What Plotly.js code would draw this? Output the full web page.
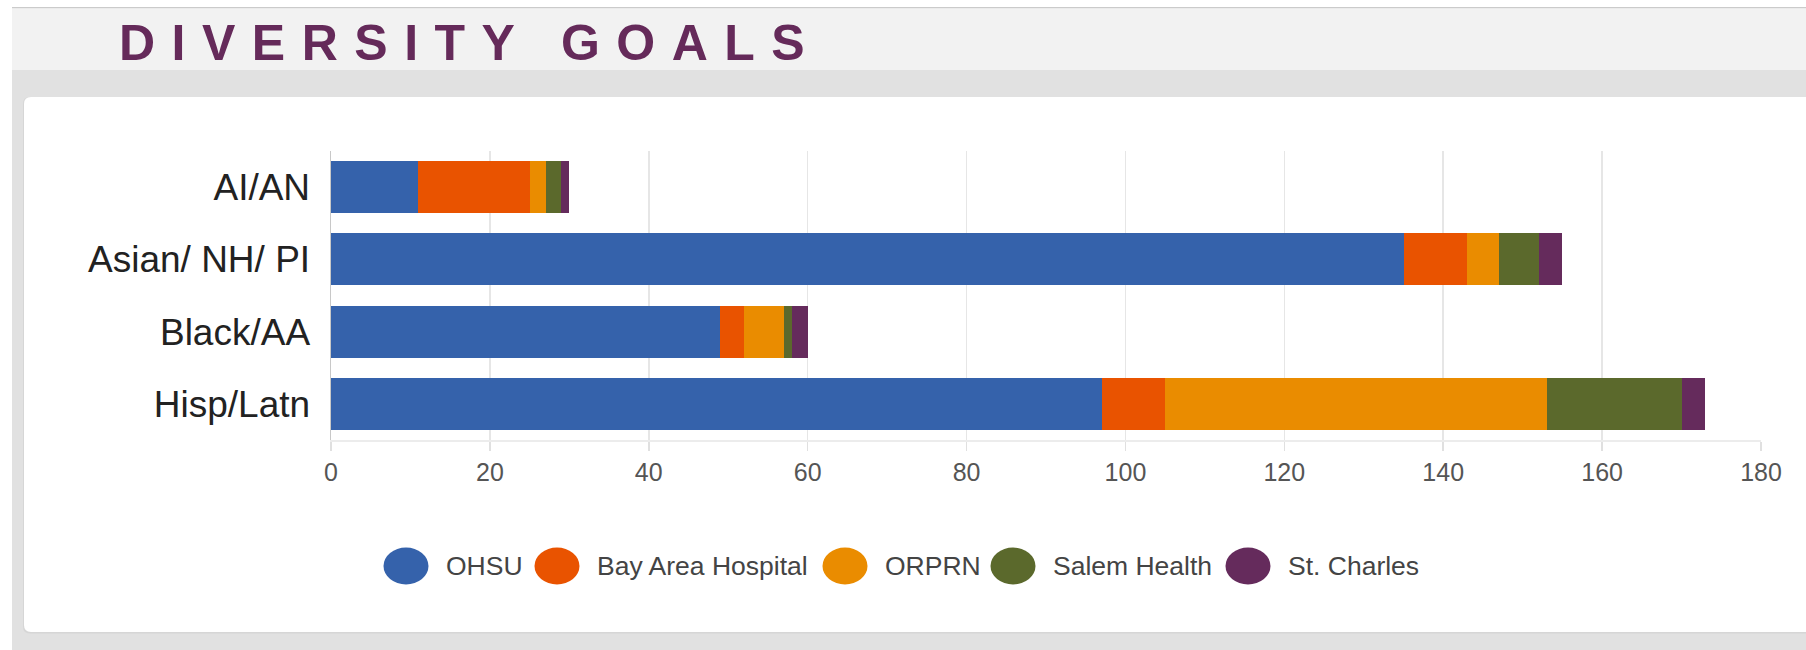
<!DOCTYPE html>
<html>
<head>
<meta charset="utf-8">
<script src="https://cdn.plot.ly/plotly-3.0.1.min.js"></script>
<style>
  html, body { margin: 0; padding: 0; background: #ffffff; }
  #chart { width: 1806px; height: 650px; }
</style>
</head>
<body>
<div id="chart"></div>
<script>
// ---- Data ----
const categories = ['AI/AN', 'Asian/ NH/ PI', 'Black/AA', 'Hisp/Latn'];
const seriesNames = ['OHSU', 'Bay Area Hospital', 'ORPRN', 'Salem Health', 'St. Charles'];
const OHSU       = [11, 135, 49, 97];
const BayArea    = [14, 8, 3, 8];
const ORPRN      = [2, 4, 5, 48];
const SalemHealth = [2, 5, 1, 17];
const StCharles  = [1, 3, 2, 3];
const xTicks = [0, 20, 40, 60, 80, 100, 120, 140, 160, 180];

const seriesValues = [OHSU, BayArea, ORPRN, SalemHealth, StCharles];
const seriesColors = ['#3562ab', '#e95300', '#ea8c00', '#5b692c', '#652b5c'];

// ---- Geometry (pixels) ----
const W = 1806, H = 650;
const M = { l: 331, r: 45, t: 151, b: 210 };
const PW = W - M.l - M.r, PH = H - M.t - M.b;
const px = x => (x - M.l) / PW;          // pixel x -> paper x
const py = y => (H - M.b - y) / PH;      // pixel y -> paper y

const traces = seriesNames.map((name, i) => ({
  type: 'bar',
  orientation: 'h',
  name: name,
  y: categories,
  x: seriesValues[i],
  marker: { color: seriesColors[i], line: { width: 0 } },
  hovertemplate: name + ': %{x}<extra>%{y}</extra>'
}));

// background shapes
const shapes = [
  { type: 'rect', xref: 'paper', yref: 'paper', layer: 'below', x0: px(12), x1: px(W + 5), y0: py(7), y1: py(8.5), fillcolor: '#cbcbcb', line: { width: 0 } },
  { type: 'rect', xref: 'paper', yref: 'paper', layer: 'below', x0: px(12), x1: px(W + 5), y0: py(8.5), y1: py(70), fillcolor: '#f2f2f2', line: { width: 0 } },
  { type: 'rect', xref: 'paper', yref: 'paper', layer: 'below', x0: px(12), x1: px(W + 5), y0: py(70), y1: py(H + 5), fillcolor: '#e1e1e1', line: { width: 0 } }
];
// rounded white card (with faint shadow)
function roundRect(x0, y0, x1, y1, r) {
  const X = v => px(v), Y = v => py(v);
  return 'M' + X(x0 + r) + ',' + Y(y0) + ' L' + X(x1) + ',' + Y(y0) + ' L' + X(x1) + ',' + Y(y1) +
    ' L' + X(x0 + r) + ',' + Y(y1) + ' Q' + X(x0) + ',' + Y(y1) + ' ' + X(x0) + ',' + Y(y1 - r) +
    ' L' + X(x0) + ',' + Y(y0 + r) + ' Q' + X(x0) + ',' + Y(y0) + ' ' + X(x0 + r) + ',' + Y(y0) + ' Z';
}
shapes.push({ type: 'path', xref: 'paper', yref: 'paper', layer: 'below', path: roundRect(23, 97, W + 10, 633.5, 7), fillcolor: '#d6d6d6', line: { width: 0 } });
shapes.push({ type: 'path', xref: 'paper', yref: 'paper', layer: 'below', path: roundRect(24, 97, W + 10, 632, 7), fillcolor: '#ffffff', line: { width: 0 } });

// custom legend: ellipses + labels
const legendCenters = [406, 557, 845, 1013, 1248];
const legendY = 566;
const annotations = [];
seriesNames.forEach((name, i) => {
  const cx = legendCenters[i];
  shapes.push({ type: 'circle', xref: 'paper', yref: 'paper', layer: 'above',
    x0: px(cx - 22.5), x1: px(cx + 22.5), y0: py(legendY - 18.5), y1: py(legendY + 18.5),
    fillcolor: seriesColors[i], line: { width: 0 } });
  annotations.push({ xref: 'paper', yref: 'paper', x: px(cx + 38), y: py(legendY), xanchor: 'left', yanchor: 'middle',
    text: name, showarrow: false, font: { family: 'Liberation Sans, Arial, sans-serif', size: 26.5, color: '#444444' } });
});

const layout = {
  width: W, height: H,
  margin: M,
  paper_bgcolor: '#ffffff',
  plot_bgcolor: 'rgba(0,0,0,0)',
  barmode: 'stack',
  bargap: 0.28,
  showlegend: false,
  title: {
    text: '<span style="letter-spacing:16.5px">DIVERSITY GOALS</span>',
    font: { family: 'Liberation Sans, Arial, sans-serif', size: 50, color: '#652a5a', weight: 'bold' },
    xref: 'container', yref: 'container',
    x: 119 / W, xanchor: 'left',
    y: 1 - 42 / H, yanchor: 'middle'
  },
  xaxis: {
    range: [0, 180],
    tickvals: xTicks,
    ticktext: xTicks.map(String),
    showgrid: true, gridcolor: '#e6e6e6', gridwidth: 1.5,
    zeroline: false,
    showline: true, linecolor: '#ececec', linewidth: 1.5,
    ticks: 'outside', ticklen: 9, tickcolor: '#e0e0e0', tickwidth: 1.5,
    tickfont: { family: 'Liberation Sans, Arial, sans-serif', size: 25, color: '#555555' },
    fixedrange: true
  },
  yaxis: {
    type: 'category',
    categoryorder: 'array', categoryarray: categories,
    autorange: 'reversed',
    showgrid: false, zeroline: false,
    showline: true, linecolor: '#c8c8c8', linewidth: 1.5,
    ticks: '',
    ticklabelstandoff: 12,
    tickfont: { family: 'Liberation Sans, Arial, sans-serif', size: 37, color: '#222222' },
    fixedrange: true
  },
  shapes: shapes,
  annotations: annotations
};

Plotly.newPlot('chart', traces, layout, { displayModeBar: false, staticPlot: true });
</script>
</body>
</html>
